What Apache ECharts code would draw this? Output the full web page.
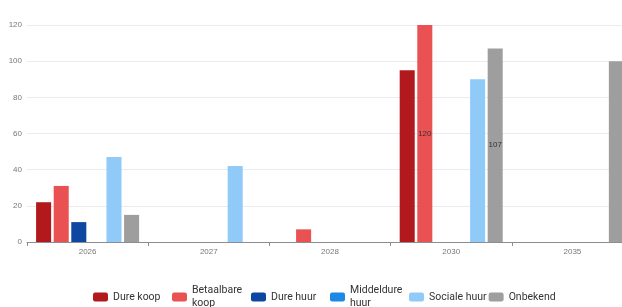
<!DOCTYPE html>
<html>
<head>
<meta charset="utf-8">
<script src="https://cdn.jsdelivr.net/npm/echarts@6/dist/echarts.min.js"></script>
<style>
  html, body { margin: 0; padding: 0; background: #fff; overflow: hidden; }
  #chart { width: 634px; height: 307px; }
</style>
</head>
<body>
<div id="chart"></div>
<script>
var years = ['2026', '2027', '2028', '2030', '2035'];
var dureKoop = [22, 0, 0, 95, 0];
var betaalbareKoop = [31, 0, 7, 120, 0];
var dureHuur = [11, 0, 0, 0, 0];
var middeldureHuur = [0, 0, 0, 0, 0];
var socialeHuur = [47, 42, 0, 90, 0];
var onbekend = [15, 0, 0, 107, 100];
var yTicks = [0, 20, 40, 60, 80, 100, 120];

var seriesDefs = [
    { name: 'Dure koop', data: dureKoop, color: '#b2191d' },
    { name: 'Betaalbare koop', data: betaalbareKoop, color: '#ea5153' },
    { name: 'Dure huur', data: dureHuur, color: '#0d47a1' },
    { name: 'Middeldure huur', data: middeldureHuur, color: '#1e88e5' },
    { name: 'Sociale huur', data: socialeHuur, color: '#90caf9' },
    { name: 'Onbekend', data: onbekend, color: '#9e9e9e' }
];

var chartDom = document.getElementById('chart');
var myChart = echarts.init(chartDom);
var option;

option = {
    animation: false,
    grid: {
        left: 27,
        right: 1,
        top: 25,
        bottom: 65,
        containLabel: false
    },
    legend: {
        bottom: -8,
        left: 88,
        icon: 'roundRect',
        itemWidth: 15,
        itemHeight: 9,
        itemGap: 2,
        formatter: function (name) {
            // lange namen over twee regels
            return name.length > 12 ? name.replace(' ', '\n') : name;
        },
        textStyle: {
            fontFamily: 'Roboto',
            fontSize: 10.5,
            color: '#333',
            width: 57,
            lineHeight: 13
        },
        data: seriesDefs.map(function (s) { return s.name; })
    },
    xAxis: {
        type: 'category',
        data: years,
        axisLine: { lineStyle: { color: '#8a8d94' } },
        axisTick: { show: true, length: 4, lineStyle: { color: '#8a8d94' } },
        axisLabel: { fontSize: 8, color: '#777', margin: 6 }
    },
    yAxis: {
        type: 'value',
        min: yTicks[0],
        max: yTicks[yTicks.length - 1],
        interval: 20,
        axisLabel: { fontSize: 8, color: '#777', margin: 5 },
        splitLine: { lineStyle: { color: '#e9ebf1' } }
    },
    series: seriesDefs.map(function (s) {
        return {
            name: s.name,
            type: 'bar',
            data: s.data,
            barGap: '17%',
            barCategoryGap: '15%',
            itemStyle: { color: s.color },
            label: {
                show: true,
                position: 'inside',
                fontSize: 8,
                color: '#333',
                formatter: function (p) { return p.value > 100 ? p.value : ''; }
            }
        };
    })
};

option && myChart.setOption(option);
</script>
</body>
</html>
